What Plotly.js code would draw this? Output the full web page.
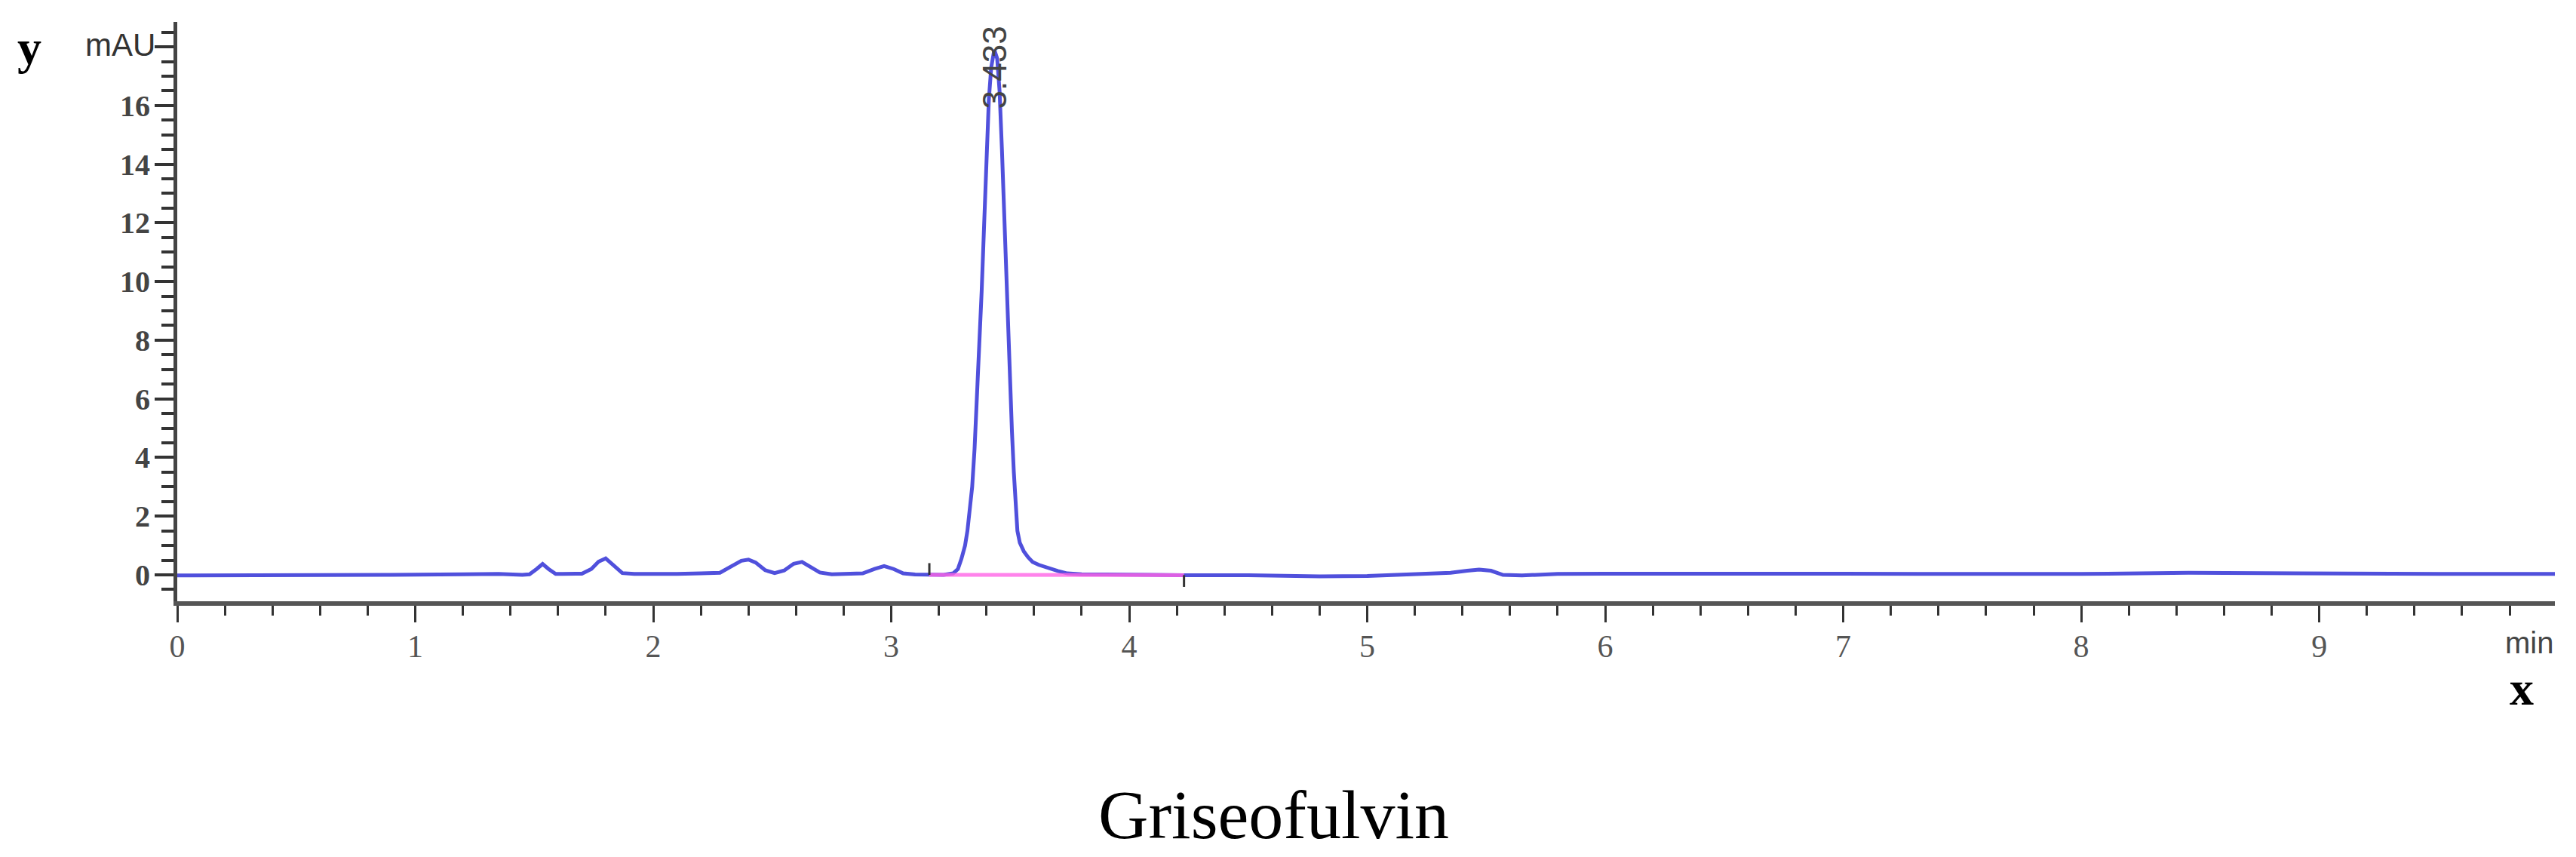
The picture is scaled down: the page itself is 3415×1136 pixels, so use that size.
<!DOCTYPE html>
<html>
<head>
<meta charset="utf-8">
<script src="https://cdn.plot.ly/plotly-3.0.1.min.js"></script>
<style>html,body{margin:0;padding:0;background:#fff;}#chart{width:3415px;height:1136px;}</style>
</head>
<body>
<div id="chart"></div>
<script>
// Retention time (min) and detector signal (mAU)
var timeMin = [0, 0.3, 0.6, 0.9, 1.2, 1.35, 1.45, 1.48, 1.51, 1.535, 1.56, 1.59, 1.62, 1.70, 1.74, 1.77, 1.80, 1.83, 1.87, 1.92, 2.0, 2.1, 2.2, 2.28, 2.33, 2.37, 2.40, 2.43, 2.47, 2.51, 2.55, 2.59, 2.625, 2.66, 2.70, 2.75, 2.82, 2.88, 2.93, 2.97, 3.01, 3.05, 3.10, 3.16, 3.22, 3.26,
  3.28, 3.295, 3.31, 3.32, 3.33, 3.34, 3.35, 3.357, 3.365, 3.372, 3.38, 3.39, 3.40, 3.41, 3.42, 3.433, 3.445, 3.455, 3.465, 3.475, 3.483, 3.49, 3.499, 3.507, 3.515, 3.523, 3.53, 3.54, 3.557, 3.575, 3.594, 3.62, 3.657, 3.70, 3.74,
  3.8, 3.9, 4.0, 4.23, 4.5, 4.8, 5.0, 5.2, 5.35, 5.42, 5.47, 5.52, 5.57, 5.65, 5.8, 6.0, 6.5, 7.0, 7.5, 8.0, 8.45, 8.9, 9.5, 9.99];
var signalMAU = [-0.02, -0.02, -0.02, 0.0, 0.02, 0.03, 0.0, 0.02, 0.2, 0.37, 0.2, 0.03, 0.03, 0.04, 0.2, 0.45, 0.56, 0.35, 0.06, 0.03, 0.02, 0.03, 0.05, 0.07, 0.3, 0.48, 0.52, 0.42, 0.16, 0.06, 0.15, 0.38, 0.44, 0.28, 0.08, 0.02, 0.02, 0.05, 0.2, 0.3, 0.2, 0.05, 0.01, 0.0, 0.0, 0.05,
  0.2, 0.55, 1.0, 1.5, 2.2, 3.0, 4.3, 5.5, 6.7, 7.9, 9.7, 11.9, 14.5, 16.2, 17.3, 17.9, 17.6, 16.5, 14.5, 12.0, 9.9, 8.2, 6.4, 4.9, 3.5, 2.3, 1.5, 1.1, 0.8, 0.6, 0.44, 0.34, 0.24, 0.13, 0.05,
  0.02, 0.01, 0.0, -0.01, -0.01, -0.05, -0.04, 0.02, 0.07, 0.14, 0.18, 0.14, 0.0, -0.02, 0.03, 0.04, 0.05, 0.04, 0.03, 0.03, 0.07, 0.04, 0.03, 0.03];

// Integration baseline of the main peak
var baselineTime = [3.16, 4.23];
var baselineSignal = [0.0, -0.01];

// Peak label
var peakTime = 3.433;
var peakLabel = "3.433";
var peakLabelY = 17.3;

// Axis ticks
var yTickVals = [0, 2, 4, 6, 8, 10, 12, 14, 16, 18];
var yTickText = ["0", "2", "4", "6", "8", "10", "12", "14", "16", ""];
var xTickVals = [0, 1, 2, 3, 4, 5, 6, 7, 8, 9];
var xTickText = ["0", "1", "2", "3", "4", "5", "6", "7", "8", "9"];

var traces = [
  {x: timeMin, y: signalMAU, type: 'scatter', mode: 'lines',
   line: {color: 'rgb(80,80,220)', width: 5}, hoverinfo: 'skip', showlegend: false},
  {x: baselineTime, y: baselineSignal, type: 'scatter', mode: 'lines',
   line: {color: 'rgba(255,100,230,0.8)', width: 5}, hoverinfo: 'skip', showlegend: false}
];

var shapes = [
  {type: 'line', xref: 'x', yref: 'y', x0: baselineTime[0], x1: baselineTime[0], y0: baselineSignal[0], y1: baselineSignal[0] + 0.4,
   line: {color: '#333', width: 3}},
  {type: 'line', xref: 'x', yref: 'y', x0: baselineTime[1], x1: baselineTime[1], y0: baselineSignal[1] - 0.4, y1: baselineSignal[1],
   line: {color: '#333', width: 3}}
];

var annotations = [
  {x: peakTime, y: peakLabelY, xref: 'x', yref: 'y', text: peakLabel, textangle: -90, showarrow: false,
   font: {family: 'Liberation Sans, Arial, sans-serif', size: 44, color: '#444'}},
  {x: 208, y: 59, xref: 'paper', yref: 'paper', text: 'mAU', showarrow: false, xanchor: 'right', yanchor: 'middle',
   font: {family: 'Liberation Sans, Arial, sans-serif', size: 42, color: '#333'}},
  {x: 3387, y: 852, xref: 'paper', yref: 'paper', text: 'min', showarrow: false, xanchor: 'right', yanchor: 'middle',
   font: {family: 'Liberation Sans, Arial, sans-serif', size: 40, color: '#444'}},
  {x: 3343, y: 912, xref: 'paper', yref: 'paper', text: 'x', showarrow: false, xanchor: 'center', yanchor: 'middle',
   font: {family: 'Liberation Serif, Times New Roman, serif', size: 64, color: '#000', weight: 'bold'}},
  {x: 39, y: 62, xref: 'paper', yref: 'paper', text: 'y', showarrow: false, xanchor: 'center', yanchor: 'middle',
   font: {family: 'Liberation Serif, Times New Roman, serif', size: 64, color: '#000', weight: 'bold'}},
  {x: 1688, y: 1080, xref: 'paper', yref: 'paper', text: 'Griseofulvin', showarrow: false, xanchor: 'center', yanchor: 'middle',
   font: {family: 'Liberation Serif, Times New Roman, serif', size: 92, color: '#000'}}
];

// convert pixel-placed annotations into paper coordinates
var W = 3415, H = 1136, mL = 235, mR = 28, mT = 29, mB = 339;
var pw = W - mL - mR, ph = H - mT - mB;
annotations.forEach(function (a) {
  if (a.xref === 'paper') {
    a.x = (a.x - mL) / pw;
    a.y = 1 - (a.y - mT) / ph;
  }
});

var layout = {
  width: W, height: H,
  margin: {l: mL, r: mR, t: mT, b: mB, pad: 0},
  paper_bgcolor: '#fff', plot_bgcolor: '#fff',
  showlegend: false,
  xaxis: {
    range: [0, 9.99], showgrid: false, zeroline: false,
    showline: true, linecolor: '#555', linewidth: 6,
    tickmode: 'array', tickvals: xTickVals, ticktext: xTickText,
    ticks: 'outside', ticklen: 22, tickwidth: 3, tickcolor: '#333',
    minor: {dtick: 0.2, tick0: 0, ticks: 'outside', ticklen: 13, tickwidth: 3, tickcolor: '#333', showgrid: false},
    tickfont: {family: 'Liberation Serif, Times New Roman, serif', size: 42, color: '#555'},
    ticklabelstandoff: -4,
    fixedrange: true
  },
  yaxis: {
    range: [-0.9, 18.85], showgrid: false, zeroline: false,
    showline: true, linecolor: '#444', linewidth: 5,
    tickmode: 'array', tickvals: yTickVals, ticktext: yTickText,
    ticks: 'outside', ticklen: 25, tickwidth: 4, tickcolor: '#333',
    minor: {dtick: 0.5, tick0: 0, ticks: 'outside', ticklen: 16, tickwidth: 4, tickcolor: '#333', showgrid: false},
    tickfont: {family: 'Liberation Serif, Times New Roman, serif', size: 40, color: '#444', weight: 'bold'},
    ticklabelstandoff: -2,
    fixedrange: true
  },
  shapes: shapes,
  annotations: annotations
};

Plotly.newPlot('chart', traces, layout, {staticPlot: true, displayModeBar: false});
</script>
</body>
</html>
